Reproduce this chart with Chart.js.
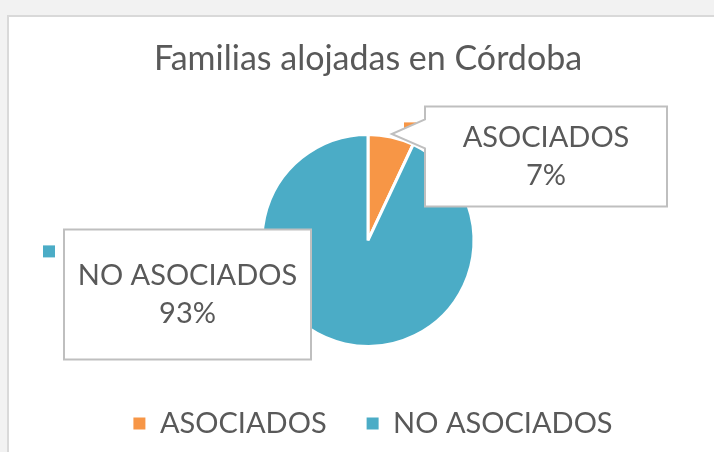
<!DOCTYPE html>
<html>
<head>
<meta charset="utf-8">
<script src="https://cdn.jsdelivr.net/npm/chart.js@4"></script>
<style>
  html, body { margin: 0; padding: 0; background: #f2f2f2; }
  body { width: 714px; height: 452px; position: relative; overflow: hidden; }
  #panel { position: absolute; left: 7px; top: 15px; width: 760px; height: 480px;
           background: #fff; border: 2px solid #d9d9d9; box-sizing: border-box; }
  #c { position: absolute; left: 0; top: 0; }
</style>
</head>
<body>
<div id="panel"></div>
<canvas id="c" width="714" height="452"></canvas>
<script>
const categories = ["ASOCIADOS", "NO ASOCIADOS"];
const values = [7, 93];
const colors = ["#F79646", "#4BACC6"];

const FONT = "Lato, 'Open Sans', sans-serif";
const TEXT = "#595959";

// callout boxes, placed relative to the pie centre
const callouts = [
  { dx: 57, dy: -134, w: 242, h: 100, pointer: true },
  { dx: -304, dy: -11, w: 247, h: 130, pointer: false }
];

const calloutPlugin = {
  id: "callouts",
  afterDatasetsDraw(chart) {
    const ctx = chart.ctx;
    const meta = chart.getDatasetMeta(0);
    const total = values.reduce((a, b) => a + b, 0);
    meta.data.forEach((arc, i) => {
      const c = callouts[i];
      const p = arc.getProps(["x", "y", "startAngle", "endAngle", "outerRadius"], true);
      const left = p.x + c.dx, top = p.y + c.dy;
      ctx.save();
      // legend key, partly hidden behind the box
      ctx.fillStyle = colors[i];
      ctx.fillRect(left - 21, top + 16, 12, 12);
      ctx.beginPath();
      ctx.moveTo(left, top);
      ctx.lineTo(left + c.w, top);
      ctx.lineTo(left + c.w, top + c.h);
      ctx.lineTo(left, top + c.h);
      if (c.pointer) {
        const mid = (p.startAngle + p.endAngle) / 2;
        const r = p.outerRadius + 3;
        ctx.lineTo(left, top + 42);
        ctx.lineTo(p.x + Math.cos(mid) * r, p.y + Math.sin(mid) * r);
        ctx.lineTo(left, top + 13);
      }
      ctx.closePath();
      ctx.fillStyle = "#fff";
      ctx.fill();
      ctx.strokeStyle = "#bfbfbf";
      ctx.lineWidth = 2;
      ctx.stroke();
      ctx.fillStyle = TEXT;
      ctx.font = "29px " + FONT;
      ctx.textAlign = "center";
      ctx.textBaseline = "middle";
      const pct = Math.round(values[i] / total * 100) + "%";
      ctx.fillText(categories[i], left + c.w / 2, top + c.h / 2 - 19);
      ctx.fillText(pct, left + c.w / 2, top + c.h / 2 + 19);
      ctx.restore();
    });
  }
};

// nudge the legend row a little to the right, as in the original
const legendShift = {
  id: "legendShift",
  afterLayout(chart) {
    const lg = chart.legend;
    if (!lg) return;
    lg.left += 5;
    lg.right += 5;
    if (lg.legendHitBoxes) lg.legendHitBoxes.forEach(h => { h.left += 5; });
  }
};

new Chart(document.getElementById("c"), {
  type: "pie",
  data: {
    labels: categories,
    datasets: [{
      data: values,
      backgroundColor: colors,
      borderColor: "#fff",
      borderWidth: 3
    }]
  },
  options: {
    responsive: false,
    animation: false,
    radius: 106,
    layout: { padding: { left: 22, right: 0, top: 39, bottom: 4 } },
    plugins: {
      tooltip: { enabled: false },
      title: {
        display: true,
        text: "Familias alojadas en Córdoba",
        color: TEXT,
        font: { family: FONT, size: 34, weight: "normal" },
        padding: { top: 0, bottom: 32 }
      },
      legend: {
        position: "bottom",
        labels: {
          color: TEXT,
          font: { family: FONT, size: 29 },
          boxWidth: 12,
          boxHeight: 12,
          padding: 40,
          generateLabels(chart) {
            const items = Chart.overrides.pie.plugins.legend.labels.generateLabels(chart);
            items.forEach(it => { it.lineWidth = 0; it.strokeStyle = "rgba(0,0,0,0)"; });
            return items;
          }
        }
      }
    }
  },
  plugins: [calloutPlugin, legendShift]
});
</script>
</body>
</html>
